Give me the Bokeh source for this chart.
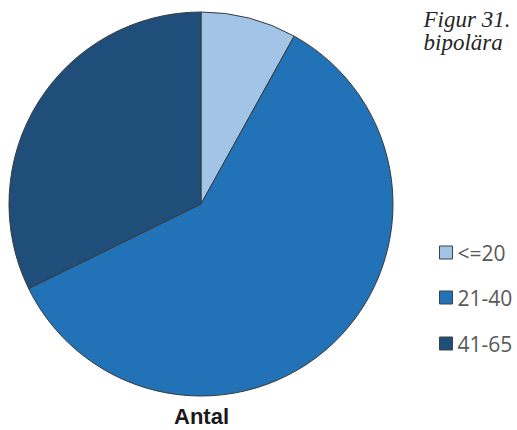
import numpy as np
from bokeh.plotting import figure
from bokeh.models import ColumnDataSource, Range1d
from bokeh.core.properties import value
from bokeh.embed import file_html
from bokeh.resources import INLINE

categories = ["<=20", "21-40", "41-65"]
counts = [5, 37, 20]
colors = ["#A2C4E6", "#2272B8", "#1F4E7A"]
title_lines = ["Figur 31.", "bipolära"]
series_name = "Antal"

W, H = 517, 430
p = figure(width=W, height=H, output_backend="svg", toolbar_location=None,
           x_range=Range1d(0, W), y_range=Range1d(0, H), min_border=0)
p.axis.visible = False
p.grid.visible = False
p.outline_line_color = None
p.background_fill_color = "white"
p.border_fill_color = "white"

vals = np.array(counts, dtype=float)
frac = vals / vals.sum()
cum = np.concatenate([[0], np.cumsum(frac)])
start = np.pi / 2 - 2 * np.pi * cum[:-1]
end = np.pi / 2 - 2 * np.pi * cum[1:]

cx, cy, r = 200.5, H - 203.5, 192
src = ColumnDataSource(dict(start=start, end=end, color=colors, cat=categories))
p.wedge(x=cx, y=cy, radius=r, start_angle="start", end_angle="end", direction="clock",
        fill_color="color", line_color="#3a3a3a", line_width=1, source=src)

# legend
ly = [H - 252, H - 297, H - 343]
lsrc = ColumnDataSource(dict(x=[445.5] * 3, y=ly, color=colors, cat=categories, tx=[457] * 3))
p.rect(x="x", y="y", width=13, height=13, fill_color="color", line_color="#404040",
       line_width=1, source=lsrc)
p.text(x="tx", y="y", text="cat", text_font=value("Open Sans"), text_font_size="21px",
       text_color="#595959", text_baseline="middle", text_align="left", source=lsrc)

# title
p.text(x=[423, 423], y=[H - 19, H - 42], text=title_lines, text_font=value("Liberation Serif"),
       text_font_style="italic", text_font_size="23px", text_color="#262626",
       text_baseline="middle", text_align="left")

# series label
p.text(x=[201], y=[H - 416], text=[series_name], text_font=value("Liberation Sans"),
       text_font_style="bold", text_font_size="22px", text_color="#1a1a1a",
       text_baseline="middle", text_align="center")

open("out.html", "w").write(file_html(p, INLINE))
